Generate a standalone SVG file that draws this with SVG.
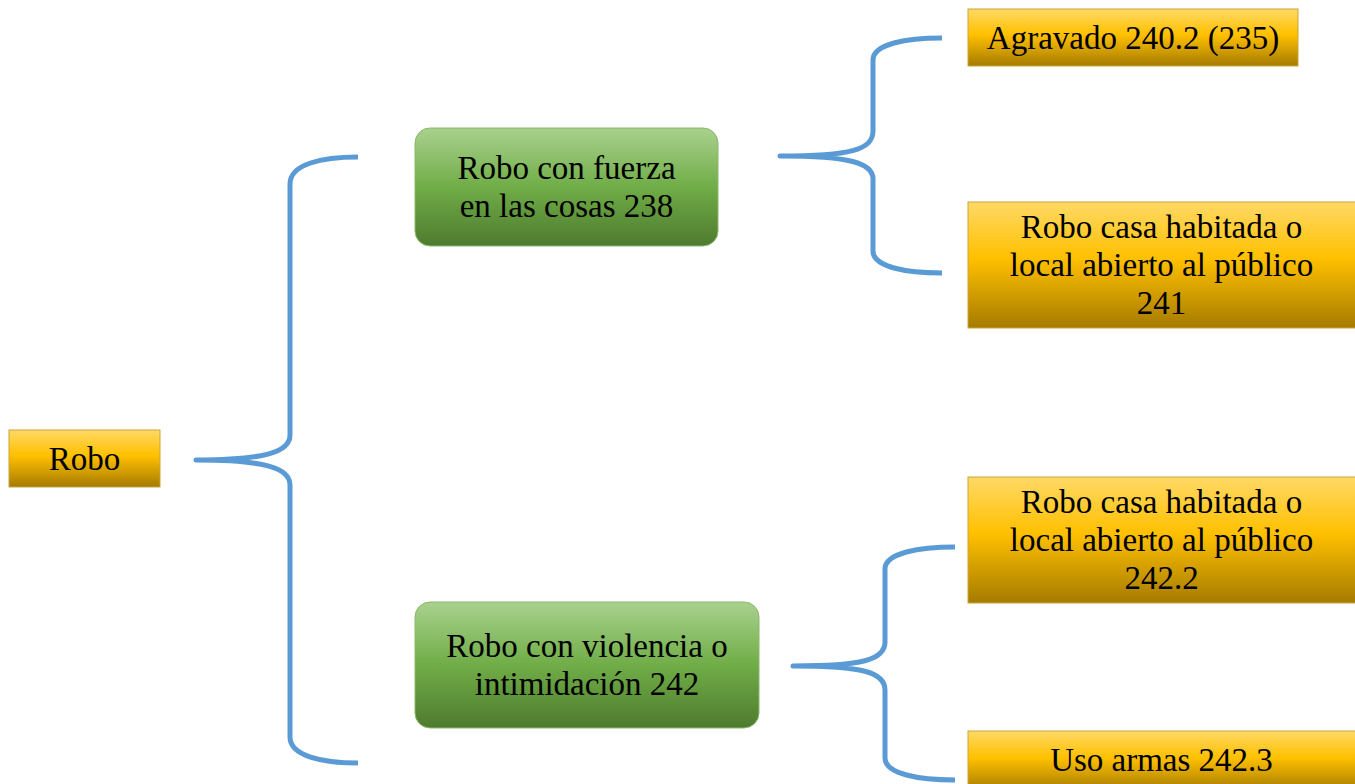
<svg xmlns="http://www.w3.org/2000/svg" width="1355" height="784" viewBox="0 0 1355 784">
<defs>
<linearGradient id="gold" x1="0" y1="0" x2="0" y2="1">
<stop offset="0" stop-color="#FFD966"/>
<stop offset="0.45" stop-color="#FFC000"/>
<stop offset="1" stop-color="#A57B00"/>
</linearGradient>
<linearGradient id="green" x1="0" y1="0" x2="0" y2="1">
<stop offset="0" stop-color="#A9D18E"/>
<stop offset="0.5" stop-color="#70AD47"/>
<stop offset="1" stop-color="#4E7B2F"/>
</linearGradient>
<style>
.y{fill:url(#gold);stroke:#C9A53A;stroke-width:1}
.g{fill:url(#green);stroke:#8CB86C;stroke-width:1}
text{font-family:"Liberation Serif","Times New Roman",serif;font-size:33px;fill:#000;text-anchor:middle}
.br{fill:none;stroke:#5B9BD5;stroke-width:5;stroke-linecap:butt;stroke-linejoin:round}
</style>
</defs>
<rect width="1355" height="784" fill="#fff"/>
<g id="connectors">
<path class="br" d="M358,157 C322,157 290,164 290,184 L290,435 C290,452 265,460 196,460 C265,460 290,468 290,485 L290,737 C290,756 322,763 358,763"/>
<path class="br" d="M942,38 C906,38 873,44 873,60 L873,131 C873,150 850,156 780,156 C850,156 873,163 873,179 L873,251 C873,267 906,273 942,273"/>
<path class="br" d="M955,547 C919,547 885,553 885,569 L885,642 C885,660 862,666 793,666 C862,666 885,672 885,690 L885,758 C885,774 919,780 955,780"/>
</g>
<g id="robo">
<rect class="y" x="9" y="430" width="151" height="57"/>
<text x="84.5" y="470">Robo</text>
</g>
<g id="fuerza">
<rect class="g" x="415" y="128" width="303" height="118" rx="15"/>
<text x="566.5" y="179">Robo con fuerza</text>
<text x="566.5" y="217">en las cosas 238</text>
</g>
<g id="violencia">
<rect class="g" x="415" y="602" width="344" height="126" rx="15"/>
<text x="587" y="657">Robo con violencia o</text>
<text x="587" y="695">intimidación 242</text>
</g>
<g id="agravado">
<rect class="y" x="968" y="9" width="330" height="57"/>
<text x="1133" y="49">Agravado 240.2 (235)</text>
</g>
<g id="casa241">
<rect class="y" x="968" y="202" width="390" height="126"/>
<text x="1161.5" y="238">Robo casa habitada o</text>
<text x="1161.5" y="276">local abierto al público</text>
<text x="1161.5" y="314">241</text>
</g>
<g id="casa2422">
<rect class="y" x="968" y="477" width="390" height="126"/>
<text x="1161.5" y="513">Robo casa habitada o</text>
<text x="1161.5" y="551">local abierto al público</text>
<text x="1161.5" y="589">242.2</text>
</g>
<g id="armas">
<rect class="y" x="968" y="731" width="390" height="60"/>
<text x="1161.5" y="771">Uso armas 242.3</text>
</g>
</svg>
